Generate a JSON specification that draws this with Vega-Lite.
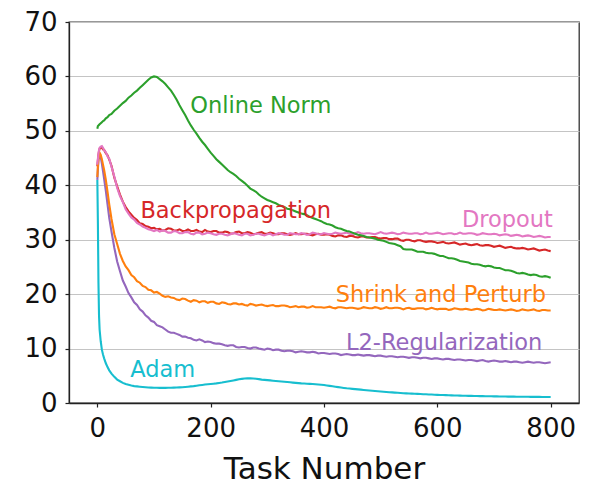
{
  "$schema": "https://vega.github.io/schema/vega-lite/v6.json",
  "width": 510,
  "height": 381,
  "autosize": "none",
  "padding": {"left": 69, "top": 22, "right": 11, "bottom": 82},
  "background": "white",
  "config": {
    "font": "DejaVu Sans",
    "view": {"stroke": "#333333", "strokeWidth": 1.3},
    "axis": {
      "labelFont": "DejaVu Sans",
      "titleFont": "DejaVu Sans",
      "labelColor": "#111111",
      "titleColor": "#111111",
      "domainColor": "#222222",
      "domainWidth": 1.3,
      "tickColor": "#222222",
      "tickWidth": 1.2,
      "tickSize": 4,
      "labelFontSize": 26,
      "titleFontSize": 31,
      "titleFontWeight": "normal",
      "labelPadding": 8
    }
  },
  "datasets": {
    "curves": [
      {"x": 0, "bp": 43.5, "dr": 43.8, "sp": 41.5, "l2": 41.0, "on": 50.4, "ad": 41.0},
      {"x": 1, "bp": 44.6, "dr": 44.9, "sp": 43.5, "l2": 43.0, "on": 50.9, "ad": 33.0},
      {"x": 2, "bp": 45.6, "dr": 45.8, "sp": 44.8, "l2": 44.5, "on": 51.0, "ad": 22.0},
      {"x": 3, "bp": 46.3, "dr": 46.5, "sp": 45.6, "l2": 45.3, "on": 51.1, "ad": 16.0},
      {"x": 4, "bp": 46.7, "dr": 46.9, "sp": 46.0, "l2": 45.6, "on": 51.2, "ad": 13.5},
      {"x": 6, "bp": 46.9, "dr": 47.1, "sp": 45.6, "l2": 45.2, "on": 51.4, "ad": 11.3},
      {"x": 8, "bp": 47.0, "dr": 47.2, "sp": 44.8, "l2": 44.0, "on": 51.6, "ad": 9.8},
      {"x": 10, "bp": 46.6, "dr": 46.9, "sp": 43.8, "l2": 42.6, "on": 51.8, "ad": 8.9},
      {"x": 12, "bp": 46.5, "dr": 46.4, "sp": 42.8, "l2": 41.2, "on": 51.9, "ad": 8.2},
      {"x": 15, "bp": 45.9, "dr": 46.1, "sp": 41.0, "l2": 39.0, "on": 52.3, "ad": 7.3},
      {"x": 18, "bp": 45.5, "dr": 45.3, "sp": 38.8, "l2": 36.5, "on": 52.5, "ad": 6.6},
      {"x": 21, "bp": 44.7, "dr": 44.9, "sp": 36.5, "l2": 34.0, "on": 52.9, "ad": 6.0},
      {"x": 25, "bp": 43.6, "dr": 43.4, "sp": 33.8, "l2": 31.5, "on": 53.1, "ad": 5.4},
      {"x": 30, "bp": 41.4, "dr": 41.6, "sp": 31.0, "l2": 28.5, "on": 53.7, "ad": 4.8},
      {"x": 35, "bp": 39.8, "dr": 39.5, "sp": 29.2, "l2": 26.0, "on": 54.1, "ad": 4.3},
      {"x": 40, "bp": 38.3, "dr": 38.0, "sp": 27.4, "l2": 24.2, "on": 54.6, "ad": 4.0},
      {"x": 45, "bp": 37.0, "dr": 36.9, "sp": 26.1, "l2": 22.5, "on": 55.1, "ad": 3.7},
      {"x": 50, "bp": 36.0, "dr": 35.6, "sp": 25.1, "l2": 21.4, "on": 55.5, "ad": 3.5},
      {"x": 55, "bp": 35.2, "dr": 34.8, "sp": 24.4, "l2": 20.2, "on": 56.1, "ad": 3.35},
      {"x": 60, "bp": 34.6, "dr": 34.1, "sp": 23.5, "l2": 19.4, "on": 56.5, "ad": 3.2},
      {"x": 65, "bp": 34.0, "dr": 33.7, "sp": 23.1, "l2": 18.5, "on": 57.0, "ad": 3.1},
      {"x": 70, "bp": 33.6, "dr": 33.1, "sp": 22.4, "l2": 18.0, "on": 57.4, "ad": 3.05},
      {"x": 75, "bp": 33.0, "dr": 32.8, "sp": 22.1, "l2": 17.2, "on": 57.9, "ad": 3.0},
      {"x": 80, "bp": 32.9, "dr": 32.4, "sp": 21.5, "l2": 16.8, "on": 58.4, "ad": 2.95},
      {"x": 85, "bp": 32.5, "dr": 32.2, "sp": 21.3, "l2": 16.1, "on": 58.9, "ad": 2.9},
      {"x": 90, "bp": 32.4, "dr": 31.9, "sp": 20.8, "l2": 15.7, "on": 59.4, "ad": 2.85},
      {"x": 95, "bp": 32.1, "dr": 31.8, "sp": 20.7, "l2": 15.1, "on": 59.8, "ad": 2.82},
      {"x": 100, "bp": 32.2, "dr": 31.6, "sp": 20.3, "l2": 14.9, "on": 60.0, "ad": 2.8},
      {"x": 105, "bp": 31.9, "dr": 31.8, "sp": 20.4, "l2": 14.3, "on": 59.9, "ad": 2.79},
      {"x": 110, "bp": 32.0, "dr": 31.5, "sp": 20.1, "l2": 14.1, "on": 59.5, "ad": 2.78},
      {"x": 115, "bp": 31.7, "dr": 31.7, "sp": 19.7, "l2": 13.9, "on": 59.1, "ad": 2.78},
      {"x": 120, "bp": 31.8, "dr": 31.6, "sp": 19.5, "l2": 13.5, "on": 58.6, "ad": 2.78},
      {"x": 125, "bp": 32.1, "dr": 31.3, "sp": 19.6, "l2": 13.1, "on": 58.0, "ad": 2.79},
      {"x": 130, "bp": 32.0, "dr": 31.3, "sp": 19.4, "l2": 12.9, "on": 57.4, "ad": 2.8},
      {"x": 135, "bp": 31.7, "dr": 31.6, "sp": 19.3, "l2": 12.9, "on": 56.6, "ad": 2.82},
      {"x": 140, "bp": 31.7, "dr": 31.5, "sp": 19.0, "l2": 12.7, "on": 55.7, "ad": 2.85},
      {"x": 145, "bp": 31.9, "dr": 31.2, "sp": 18.9, "l2": 12.5, "on": 54.7, "ad": 2.87},
      {"x": 150, "bp": 31.6, "dr": 31.2, "sp": 19.2, "l2": 12.2, "on": 53.8, "ad": 2.9},
      {"x": 155, "bp": 31.6, "dr": 31.4, "sp": 19.1, "l2": 12.2, "on": 52.9, "ad": 2.95},
      {"x": 160, "bp": 31.9, "dr": 31.4, "sp": 18.8, "l2": 12.0, "on": 51.9, "ad": 3.0},
      {"x": 165, "bp": 31.6, "dr": 31.1, "sp": 18.6, "l2": 11.9, "on": 51.0, "ad": 3.05},
      {"x": 170, "bp": 31.6, "dr": 31.0, "sp": 18.9, "l2": 11.6, "on": 50.2, "ad": 3.1},
      {"x": 175, "bp": 31.8, "dr": 31.3, "sp": 18.8, "l2": 11.5, "on": 49.5, "ad": 3.17},
      {"x": 180, "bp": 31.5, "dr": 31.3, "sp": 18.5, "l2": 11.7, "on": 48.7, "ad": 3.25},
      {"x": 185, "bp": 31.4, "dr": 31.0, "sp": 18.7, "l2": 11.5, "on": 48.0, "ad": 3.32},
      {"x": 190, "bp": 31.8, "dr": 31.1, "sp": 18.7, "l2": 11.2, "on": 47.4, "ad": 3.4},
      {"x": 195, "bp": 31.5, "dr": 31.3, "sp": 18.4, "l2": 11.3, "on": 46.7, "ad": 3.45},
      {"x": 200, "bp": 31.4, "dr": 31.2, "sp": 18.6, "l2": 11.2, "on": 46.0, "ad": 3.5},
      {"x": 205, "bp": 31.6, "dr": 31.0, "sp": 18.6, "l2": 11.0, "on": 45.4, "ad": 3.55},
      {"x": 210, "bp": 31.6, "dr": 30.9, "sp": 18.3, "l2": 10.9, "on": 44.8, "ad": 3.6},
      {"x": 215, "bp": 31.3, "dr": 31.1, "sp": 18.2, "l2": 10.9, "on": 44.3, "ad": 3.67},
      {"x": 220, "bp": 31.3, "dr": 31.1, "sp": 18.5, "l2": 10.8, "on": 43.8, "ad": 3.75},
      {"x": 225, "bp": 31.5, "dr": 30.9, "sp": 18.4, "l2": 10.6, "on": 43.3, "ad": 3.85},
      {"x": 230, "bp": 31.4, "dr": 30.8, "sp": 18.2, "l2": 10.5, "on": 42.8, "ad": 3.95},
      {"x": 235, "bp": 31.1, "dr": 31.0, "sp": 18.1, "l2": 10.6, "on": 42.4, "ad": 4.05},
      {"x": 240, "bp": 31.2, "dr": 31.2, "sp": 18.3, "l2": 10.6, "on": 42.1, "ad": 4.15},
      {"x": 245, "bp": 31.4, "dr": 31.1, "sp": 18.3, "l2": 10.3, "on": 41.7, "ad": 4.25},
      {"x": 250, "bp": 31.5, "dr": 30.9, "sp": 18.1, "l2": 10.2, "on": 41.2, "ad": 4.35},
      {"x": 255, "bp": 31.2, "dr": 30.8, "sp": 18.2, "l2": 10.3, "on": 40.8, "ad": 4.43},
      {"x": 260, "bp": 31.2, "dr": 31.1, "sp": 18.0, "l2": 10.3, "on": 40.4, "ad": 4.5},
      {"x": 265, "bp": 31.4, "dr": 31.1, "sp": 17.9, "l2": 10.1, "on": 39.9, "ad": 4.53},
      {"x": 270, "bp": 31.3, "dr": 30.8, "sp": 18.2, "l2": 10.0, "on": 39.4, "ad": 4.55},
      {"x": 275, "bp": 31.0, "dr": 30.9, "sp": 18.1, "l2": 10.2, "on": 39.1, "ad": 4.51},
      {"x": 280, "bp": 31.1, "dr": 31.1, "sp": 17.9, "l2": 10.2, "on": 38.8, "ad": 4.45},
      {"x": 285, "bp": 31.3, "dr": 31.1, "sp": 18.0, "l2": 10.0, "on": 38.3, "ad": 4.38},
      {"x": 290, "bp": 31.4, "dr": 30.9, "sp": 18.1, "l2": 9.9, "on": 37.9, "ad": 4.3},
      {"x": 295, "bp": 31.1, "dr": 30.8, "sp": 17.9, "l2": 9.8, "on": 37.6, "ad": 4.25},
      {"x": 300, "bp": 31.1, "dr": 31.0, "sp": 17.8, "l2": 10.0, "on": 37.3, "ad": 4.2},
      {"x": 305, "bp": 31.3, "dr": 31.1, "sp": 17.9, "l2": 9.9, "on": 37.1, "ad": 4.15},
      {"x": 310, "bp": 31.2, "dr": 30.8, "sp": 18.0, "l2": 9.7, "on": 36.9, "ad": 4.1},
      {"x": 315, "bp": 31.0, "dr": 31.0, "sp": 17.8, "l2": 9.8, "on": 36.7, "ad": 4.05},
      {"x": 320, "bp": 31.0, "dr": 31.2, "sp": 17.8, "l2": 9.8, "on": 36.4, "ad": 4.0},
      {"x": 325, "bp": 31.2, "dr": 31.1, "sp": 17.9, "l2": 9.6, "on": 36.2, "ad": 3.95},
      {"x": 330, "bp": 31.2, "dr": 30.9, "sp": 17.9, "l2": 9.5, "on": 36.0, "ad": 3.9},
      {"x": 335, "bp": 31.0, "dr": 30.9, "sp": 17.8, "l2": 9.6, "on": 35.7, "ad": 3.85},
      {"x": 340, "bp": 30.9, "dr": 31.2, "sp": 17.6, "l2": 9.6, "on": 35.6, "ad": 3.8},
      {"x": 345, "bp": 31.0, "dr": 31.1, "sp": 17.7, "l2": 9.5, "on": 35.4, "ad": 3.75},
      {"x": 350, "bp": 31.2, "dr": 31.0, "sp": 17.8, "l2": 9.3, "on": 35.2, "ad": 3.7},
      {"x": 355, "bp": 31.0, "dr": 31.0, "sp": 17.6, "l2": 9.4, "on": 35.0, "ad": 3.65},
      {"x": 360, "bp": 31.0, "dr": 31.2, "sp": 17.7, "l2": 9.5, "on": 34.8, "ad": 3.6},
      {"x": 365, "bp": 31.1, "dr": 31.1, "sp": 17.7, "l2": 9.4, "on": 34.7, "ad": 3.57},
      {"x": 370, "bp": 31.1, "dr": 30.9, "sp": 17.5, "l2": 9.3, "on": 34.5, "ad": 3.55},
      {"x": 375, "bp": 30.9, "dr": 31.0, "sp": 17.6, "l2": 9.3, "on": 34.2, "ad": 3.52},
      {"x": 380, "bp": 30.8, "dr": 31.3, "sp": 17.8, "l2": 9.4, "on": 34.0, "ad": 3.5},
      {"x": 385, "bp": 31.0, "dr": 31.2, "sp": 17.6, "l2": 9.3, "on": 33.8, "ad": 3.45},
      {"x": 390, "bp": 31.1, "dr": 31.0, "sp": 17.6, "l2": 9.1, "on": 33.6, "ad": 3.4},
      {"x": 395, "bp": 30.9, "dr": 31.0, "sp": 17.6, "l2": 9.2, "on": 33.4, "ad": 3.35},
      {"x": 400, "bp": 30.9, "dr": 31.2, "sp": 17.5, "l2": 9.2, "on": 33.1, "ad": 3.3},
      {"x": 405, "bp": 31.0, "dr": 31.1, "sp": 17.6, "l2": 9.1, "on": 32.9, "ad": 3.22},
      {"x": 410, "bp": 30.9, "dr": 31.0, "sp": 17.7, "l2": 9.0, "on": 32.8, "ad": 3.15},
      {"x": 415, "bp": 30.7, "dr": 31.1, "sp": 17.5, "l2": 9.1, "on": 32.6, "ad": 3.07},
      {"x": 420, "bp": 30.6, "dr": 31.3, "sp": 17.4, "l2": 9.1, "on": 32.3, "ad": 3.0},
      {"x": 425, "bp": 30.8, "dr": 31.2, "sp": 17.6, "l2": 9.0, "on": 32.1, "ad": 2.92},
      {"x": 430, "bp": 30.8, "dr": 31.1, "sp": 17.6, "l2": 8.8, "on": 32.0, "ad": 2.85},
      {"x": 435, "bp": 30.6, "dr": 31.2, "sp": 17.5, "l2": 8.9, "on": 31.8, "ad": 2.77},
      {"x": 440, "bp": 30.5, "dr": 31.3, "sp": 17.4, "l2": 9.0, "on": 31.6, "ad": 2.7},
      {"x": 445, "bp": 30.7, "dr": 31.1, "sp": 17.5, "l2": 8.9, "on": 31.5, "ad": 2.65},
      {"x": 450, "bp": 30.7, "dr": 31.0, "sp": 17.5, "l2": 8.8, "on": 31.3, "ad": 2.6},
      {"x": 455, "bp": 30.5, "dr": 31.2, "sp": 17.4, "l2": 8.8, "on": 31.1, "ad": 2.55},
      {"x": 460, "bp": 30.4, "dr": 31.4, "sp": 17.3, "l2": 8.9, "on": 30.9, "ad": 2.5},
      {"x": 465, "bp": 30.6, "dr": 31.2, "sp": 17.4, "l2": 8.8, "on": 30.8, "ad": 2.45},
      {"x": 470, "bp": 30.6, "dr": 31.1, "sp": 17.6, "l2": 8.7, "on": 30.7, "ad": 2.4},
      {"x": 475, "bp": 30.4, "dr": 31.2, "sp": 17.5, "l2": 8.8, "on": 30.5, "ad": 2.35},
      {"x": 480, "bp": 30.4, "dr": 31.2, "sp": 17.4, "l2": 8.8, "on": 30.4, "ad": 2.3},
      {"x": 485, "bp": 30.5, "dr": 31.1, "sp": 17.4, "l2": 8.7, "on": 30.3, "ad": 2.25},
      {"x": 490, "bp": 30.5, "dr": 31.0, "sp": 17.6, "l2": 8.6, "on": 30.2, "ad": 2.2},
      {"x": 495, "bp": 30.3, "dr": 31.2, "sp": 17.5, "l2": 8.7, "on": 30.0, "ad": 2.15},
      {"x": 500, "bp": 30.2, "dr": 31.4, "sp": 17.3, "l2": 8.7, "on": 29.9, "ad": 2.1},
      {"x": 505, "bp": 30.3, "dr": 31.2, "sp": 17.4, "l2": 8.6, "on": 29.8, "ad": 2.06},
      {"x": 510, "bp": 30.3, "dr": 31.1, "sp": 17.6, "l2": 8.5, "on": 29.6, "ad": 2.02},
      {"x": 515, "bp": 30.1, "dr": 31.2, "sp": 17.4, "l2": 8.6, "on": 29.4, "ad": 1.98},
      {"x": 520, "bp": 30.1, "dr": 31.3, "sp": 17.4, "l2": 8.6, "on": 29.3, "ad": 1.95},
      {"x": 525, "bp": 30.2, "dr": 31.2, "sp": 17.5, "l2": 8.5, "on": 29.2, "ad": 1.91},
      {"x": 530, "bp": 30.2, "dr": 31.0, "sp": 17.5, "l2": 8.4, "on": 29.0, "ad": 1.88},
      {"x": 535, "bp": 29.9, "dr": 31.1, "sp": 17.4, "l2": 8.5, "on": 28.8, "ad": 1.84},
      {"x": 540, "bp": 29.8, "dr": 31.3, "sp": 17.2, "l2": 8.5, "on": 28.3, "ad": 1.8},
      {"x": 545, "bp": 30.0, "dr": 31.2, "sp": 17.4, "l2": 8.4, "on": 28.2, "ad": 1.77},
      {"x": 550, "bp": 30.0, "dr": 31.1, "sp": 17.5, "l2": 8.3, "on": 28.2, "ad": 1.75},
      {"x": 555, "bp": 29.8, "dr": 31.1, "sp": 17.3, "l2": 8.4, "on": 28.2, "ad": 1.72},
      {"x": 560, "bp": 29.7, "dr": 31.2, "sp": 17.3, "l2": 8.4, "on": 28.0, "ad": 1.7},
      {"x": 565, "bp": 29.9, "dr": 31.2, "sp": 17.4, "l2": 8.3, "on": 27.8, "ad": 1.67},
      {"x": 570, "bp": 29.9, "dr": 31.0, "sp": 17.4, "l2": 8.2, "on": 27.8, "ad": 1.65},
      {"x": 575, "bp": 29.7, "dr": 31.1, "sp": 17.4, "l2": 8.3, "on": 27.8, "ad": 1.62},
      {"x": 580, "bp": 29.6, "dr": 31.3, "sp": 17.2, "l2": 8.3, "on": 27.6, "ad": 1.6},
      {"x": 585, "bp": 29.7, "dr": 31.1, "sp": 17.3, "l2": 8.2, "on": 27.5, "ad": 1.57},
      {"x": 590, "bp": 29.7, "dr": 31.1, "sp": 17.5, "l2": 8.1, "on": 27.5, "ad": 1.55},
      {"x": 595, "bp": 29.6, "dr": 31.2, "sp": 17.3, "l2": 8.2, "on": 27.4, "ad": 1.52},
      {"x": 600, "bp": 29.4, "dr": 31.3, "sp": 17.2, "l2": 8.2, "on": 27.2, "ad": 1.5},
      {"x": 605, "bp": 29.5, "dr": 31.2, "sp": 17.3, "l2": 8.1, "on": 27.0, "ad": 1.48},
      {"x": 610, "bp": 29.6, "dr": 31.0, "sp": 17.3, "l2": 8.0, "on": 27.0, "ad": 1.46},
      {"x": 615, "bp": 29.4, "dr": 31.1, "sp": 17.3, "l2": 8.1, "on": 26.8, "ad": 1.44},
      {"x": 620, "bp": 29.3, "dr": 31.2, "sp": 17.1, "l2": 8.1, "on": 26.6, "ad": 1.42},
      {"x": 625, "bp": 29.4, "dr": 31.2, "sp": 17.2, "l2": 8.0, "on": 26.6, "ad": 1.4},
      {"x": 630, "bp": 29.5, "dr": 31.0, "sp": 17.4, "l2": 7.9, "on": 26.5, "ad": 1.39},
      {"x": 635, "bp": 29.3, "dr": 31.1, "sp": 17.3, "l2": 8.0, "on": 26.3, "ad": 1.37},
      {"x": 640, "bp": 29.1, "dr": 31.3, "sp": 17.2, "l2": 8.0, "on": 26.1, "ad": 1.36},
      {"x": 645, "bp": 29.2, "dr": 31.1, "sp": 17.2, "l2": 7.9, "on": 26.0, "ad": 1.34},
      {"x": 650, "bp": 29.3, "dr": 31.1, "sp": 17.3, "l2": 7.8, "on": 25.9, "ad": 1.33},
      {"x": 655, "bp": 29.1, "dr": 31.2, "sp": 17.2, "l2": 7.9, "on": 25.8, "ad": 1.31},
      {"x": 660, "bp": 29.0, "dr": 31.2, "sp": 17.1, "l2": 7.9, "on": 25.6, "ad": 1.3},
      {"x": 665, "bp": 29.1, "dr": 31.1, "sp": 17.2, "l2": 7.8, "on": 25.5, "ad": 1.29},
      {"x": 670, "bp": 29.2, "dr": 30.9, "sp": 17.3, "l2": 7.7, "on": 25.5, "ad": 1.28},
      {"x": 675, "bp": 29.0, "dr": 31.0, "sp": 17.2, "l2": 7.8, "on": 25.4, "ad": 1.27},
      {"x": 680, "bp": 28.9, "dr": 31.2, "sp": 17.0, "l2": 7.9, "on": 25.2, "ad": 1.26},
      {"x": 685, "bp": 29.0, "dr": 31.1, "sp": 17.1, "l2": 7.7, "on": 25.1, "ad": 1.25},
      {"x": 690, "bp": 29.0, "dr": 31.0, "sp": 17.3, "l2": 7.6, "on": 25.2, "ad": 1.24},
      {"x": 695, "bp": 28.9, "dr": 31.0, "sp": 17.2, "l2": 7.7, "on": 25.1, "ad": 1.23},
      {"x": 700, "bp": 28.7, "dr": 31.1, "sp": 17.1, "l2": 7.8, "on": 24.9, "ad": 1.22},
      {"x": 705, "bp": 28.8, "dr": 31.0, "sp": 17.1, "l2": 7.7, "on": 24.8, "ad": 1.21},
      {"x": 710, "bp": 28.9, "dr": 30.8, "sp": 17.2, "l2": 7.6, "on": 24.8, "ad": 1.2},
      {"x": 715, "bp": 28.7, "dr": 30.9, "sp": 17.1, "l2": 7.6, "on": 24.6, "ad": 1.2},
      {"x": 720, "bp": 28.5, "dr": 31.0, "sp": 17.0, "l2": 7.7, "on": 24.4, "ad": 1.19},
      {"x": 725, "bp": 28.6, "dr": 30.9, "sp": 17.1, "l2": 7.6, "on": 24.4, "ad": 1.18},
      {"x": 730, "bp": 28.7, "dr": 30.7, "sp": 17.2, "l2": 7.5, "on": 24.3, "ad": 1.18},
      {"x": 735, "bp": 28.5, "dr": 30.8, "sp": 17.1, "l2": 7.6, "on": 24.1, "ad": 1.17},
      {"x": 740, "bp": 28.4, "dr": 30.9, "sp": 16.9, "l2": 7.6, "on": 23.9, "ad": 1.16},
      {"x": 745, "bp": 28.4, "dr": 30.8, "sp": 17.0, "l2": 7.5, "on": 23.8, "ad": 1.15},
      {"x": 750, "bp": 28.5, "dr": 30.6, "sp": 17.2, "l2": 7.4, "on": 23.9, "ad": 1.15},
      {"x": 755, "bp": 28.4, "dr": 30.7, "sp": 17.1, "l2": 7.5, "on": 23.8, "ad": 1.14},
      {"x": 760, "bp": 28.2, "dr": 30.8, "sp": 17.0, "l2": 7.6, "on": 23.6, "ad": 1.14},
      {"x": 765, "bp": 28.3, "dr": 30.7, "sp": 17.1, "l2": 7.5, "on": 23.5, "ad": 1.13},
      {"x": 770, "bp": 28.4, "dr": 30.5, "sp": 17.2, "l2": 7.4, "on": 23.6, "ad": 1.13},
      {"x": 775, "bp": 28.2, "dr": 30.6, "sp": 17.0, "l2": 7.5, "on": 23.5, "ad": 1.12},
      {"x": 780, "bp": 28.0, "dr": 30.7, "sp": 16.9, "l2": 7.5, "on": 23.3, "ad": 1.12},
      {"x": 785, "bp": 28.1, "dr": 30.6, "sp": 17.1, "l2": 7.4, "on": 23.2, "ad": 1.11},
      {"x": 790, "bp": 28.2, "dr": 30.4, "sp": 17.1, "l2": 7.3, "on": 23.3, "ad": 1.11},
      {"x": 795, "bp": 28.0, "dr": 30.5, "sp": 17.0, "l2": 7.4, "on": 23.2, "ad": 1.1},
      {"x": 800, "bp": 27.9, "dr": 30.5, "sp": 17.0, "l2": 7.5, "on": 23.0, "ad": 1.1}
    ],
    "labels": [
      {"key": "on", "label": "Online Norm", "x": 164, "y": 53.2},
      {"key": "bp", "label": "Backpropagation", "x": 76, "y": 33.9},
      {"key": "ad", "label": "Adam", "x": 58, "y": 4.8},
      {"key": "dr", "label": "Dropout", "x": 804, "y": 32.4},
      {"key": "sp", "label": "Shrink and Perturb", "x": 792, "y": 18.6},
      {"key": "l2", "label": "L2-Regularization", "x": 785, "y": 9.7}
    ]
  },
  "layer": [
    {
      "data": {"name": "curves"},
      "transform": [
        {"fold": ["bp", "ad", "l2", "sp", "dr", "on"], "as": ["key", "value"]}
      ],
      "mark": {"type": "line", "strokeWidth": 2.1, "interpolate": "linear"},
      "encoding": {
        "x": {
          "field": "x",
          "type": "quantitative",
          "scale": {"domain": [-50, 850], "nice": false},
          "axis": {
            "values": [0, 200, 400, 600, 800],
            "grid": false,
            "title": "Task Number",
            "titleBaseline": "alphabetic",
            "titleY": 75
          }
        },
        "y": {
          "field": "value",
          "type": "quantitative",
          "scale": {"domain": [0, 70], "nice": false},
          "axis": {
            "values": [0, 10, 20, 30, 40, 50, 60, 70],
            "grid": true,
            "gridColor": "#c4c4c4",
            "gridWidth": 1.2,
            "title": null
          }
        },
        "color": {
          "field": "key",
          "type": "nominal",
          "scale": {
            "domain": ["bp", "ad", "l2", "sp", "dr", "on"],
            "range": ["#d62728", "#17becf", "#9467bd", "#ff7f0e", "#e377c2", "#2ca02c"]
          },
          "legend": null
        },
        "order": {"field": "x", "type": "quantitative"}
      }
    },
    {
      "data": {"name": "labels"},
      "transform": [{"filter": {"field": "key", "oneOf": ["on", "bp", "ad"]}}],
      "mark": {"type": "text", "align": "left", "baseline": "alphabetic", "fontSize": 22.5, "font": "DejaVu Sans"},
      "encoding": {
        "x": {"field": "x", "type": "quantitative"},
        "y": {"field": "y", "type": "quantitative"},
        "text": {"field": "label"},
        "color": {"field": "key", "type": "nominal", "legend": null}
      }
    },
    {
      "data": {"name": "labels"},
      "transform": [{"filter": {"field": "key", "oneOf": ["dr", "sp", "l2"]}}],
      "mark": {"type": "text", "align": "right", "baseline": "alphabetic", "fontSize": 22.5, "font": "DejaVu Sans"},
      "encoding": {
        "x": {"field": "x", "type": "quantitative"},
        "y": {"field": "y", "type": "quantitative"},
        "text": {"field": "label"},
        "color": {"field": "key", "type": "nominal", "legend": null}
      }
    }
  ]
}
